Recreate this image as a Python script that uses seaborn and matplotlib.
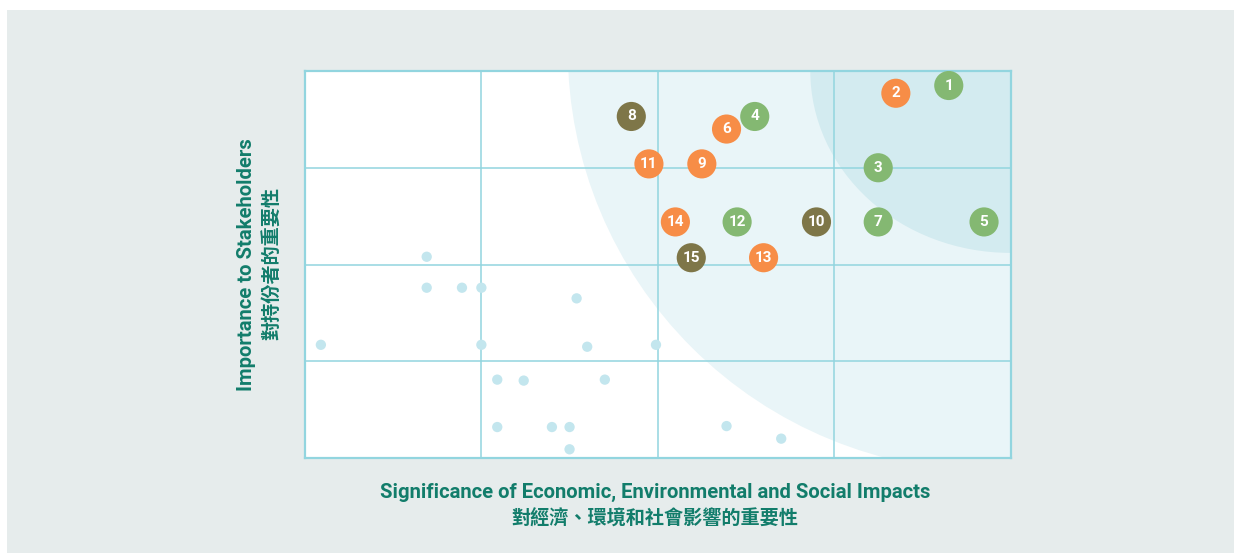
import numpy as np
import pandas as pd
import matplotlib
matplotlib.use("Agg")
import matplotlib.pyplot as plt
from matplotlib.patches import Ellipse, Rectangle
import seaborn as sns

# material topics (numbered bubbles)
topic_ids = [1, 2, 3, 4, 5, 6, 7, 8, 9, 10, 11, 12, 13, 14, 15]
topic_x = [3.65, 3.35, 3.25, 2.55, 3.85, 2.39, 3.25, 1.85, 2.25, 2.90, 1.95, 2.45, 2.60, 2.10, 2.19]
topic_y = [3.85, 3.77, 3.00, 3.53, 2.44, 3.40, 2.44, 3.53, 3.04, 2.44, 3.04, 2.44, 2.07, 2.44, 2.07]
topic_group = ["env", "soc", "env", "env", "env", "soc", "env", "gov", "soc", "gov",
               "soc", "env", "soc", "soc", "gov"]

# non-material topics (small dots)
minor_x = [0.69, 0.69, 0.89, 1.00, 1.54, 0.09, 1.00, 1.60, 1.99, 1.09, 1.24, 1.70,
           1.09, 1.40, 1.50, 1.50, 2.39, 2.70]
minor_y = [2.08, 1.76, 1.76, 1.76, 1.65, 1.17, 1.17, 1.15, 1.17, 0.81, 0.80, 0.81,
           0.32, 0.32, 0.32, 0.09, 0.33, 0.20]

palette = {"env": "#84b872", "soc": "#f78d47", "gov": "#7e7648"}
teal = "#127d6b"
grid_c = "#92d5df"

topics = pd.DataFrame({"id": topic_ids, "x": topic_x, "y": topic_y, "group": topic_group})
minor = pd.DataFrame({"x": minor_x, "y": minor_y})

sns.set_theme(style="white")
plt.rcParams["font.family"] = ["Roboto", "Noto Sans CJK TC", "DejaVu Sans"]

W, H = 1234, 553
fig = plt.figure(figsize=(W / 100, H / 100), dpi=100, facecolor="white")
fig.patches.append(Rectangle((7 / W, 0), 1 - 7 / W, 1 - 10 / H, transform=fig.transFigure,
                             facecolor="#e6ecec", edgecolor="none", zorder=-10))

ax = fig.add_axes([305 / W, (H - 458) / H, 705.5 / W, 387 / H])
ax.set_facecolor("white")
ax.set_xlim(0, 4)
ax.set_ylim(0, 4)

# shaded materiality zones
ax.add_patch(Ellipse((3.90, 4.22), 4.82, 8.72, facecolor="#e9f5f8", edgecolor="none", zorder=0.1))
ax.add_patch(Ellipse((4.0, 4.0), 2.27, 3.76, facecolor="#d3ebf0", edgecolor="none", zorder=0.2))

ax.set_xticks([1, 2, 3])
ax.set_yticks([1, 2, 3])
ax.set_xticklabels([])
ax.set_yticklabels([])
ax.tick_params(length=0)
ax.set_axisbelow(True)
ax.grid(True, color=grid_c, lw=1.1)
for s in ax.spines.values():
    s.set_color(grid_c)
    s.set_linewidth(1.6)

sns.scatterplot(data=minor, x="x", y="y", color="#c3e6ee", s=55, edgecolor="none",
                ax=ax, zorder=3, legend=False)
sns.scatterplot(data=topics, x="x", y="y", hue="group", palette=palette, s=440,
                edgecolor="none", ax=ax, zorder=4, legend=False)
for _, r in topics.iterrows():
    ax.text(r.x, r.y, str(r.id), color="white", fontsize=11, fontweight="bold",
            ha="center", va="center", zorder=5)

ax.set_xlabel("")
ax.set_ylabel("")

fig.text(247 / W, 1 - 265 / H, "Importance to Stakeholders", rotation=90, color=teal,
         fontsize=14.6, fontweight="bold", ha="center", va="center")
fig.text(272 / W, 1 - 264 / H, "對持份者的重要性", rotation=90, color=teal,
         fontsize=13.8, fontweight="bold", ha="center", va="center")
fig.text(655 / W, 1 - 492 / H, "Significance of Economic, Environmental and Social Impacts",
         color=teal, fontsize=14.6, fontweight="bold", ha="center", va="center")
fig.text(655 / W, 1 - 519 / H, "對經濟、環境和社會影響的重要性", color=teal,
         fontsize=13.8, fontweight="bold", ha="center", va="center")

fig.savefig("out.png", dpi=100, facecolor=fig.get_facecolor())
